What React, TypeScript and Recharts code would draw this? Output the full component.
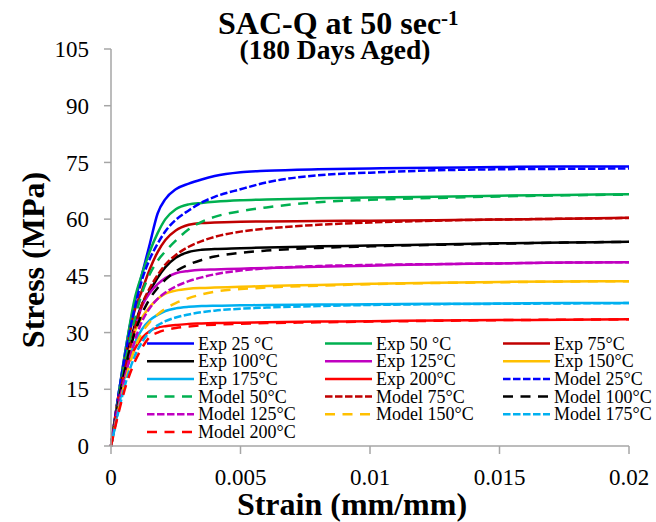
import React from 'react';
import { LineChart, Line, XAxis, YAxis } from 'recharts';

const strain = [0, 0.0003, 0.0006, 0.0009, 0.0012, 0.0015, 0.0018, 0.0021, 0.0025, 0.003, 0.0035, 0.004, 0.005, 0.006, 0.008, 0.01, 0.0125, 0.015, 0.0175, 0.02];

const exp25 = [0, 14, 27, 37.5, 45.5, 53.5, 61.5, 65.3, 67.9, 69.4, 70.5, 71.4, 72.4, 72.8, 73.2, 73.4, 73.6, 73.8, 73.9, 73.9];
const exp50 = [0, 14, 27, 38.5, 45.5, 51.5, 56.3, 60, 62.6, 63.9, 64.3, 64.6, 65, 65.2, 65.5, 65.7, 65.9, 66.2, 66.4, 66.6];
const exp75 = [0, 13, 25, 35.5, 41.2, 46.8, 51.3, 54.5, 57, 58.5, 59, 59.1, 59.3, 59.4, 59.5, 59.6, 59.7, 59.9, 60.1, 60.4];
const exp100 = [0, 12, 23, 31.5, 37.5, 41, 44.5, 47.3, 49.8, 51.3, 51.9, 52.1, 52.3, 52.5, 52.8, 53, 53.3, 53.6, 53.8, 54];
const exp125 = [0, 11.5, 22, 30.5, 37, 40.5, 42.8, 44.4, 45.7, 46.3, 46.6, 46.7, 46.9, 47.1, 47.4, 47.7, 48.1, 48.3, 48.5, 48.6];
const exp150 = [0, 11, 21, 30, 34, 36.8, 38.9, 40.3, 41.1, 41.6, 41.8, 41.9, 42.1, 42.3, 42.6, 42.9, 43.2, 43.4, 43.5, 43.6];
const exp175 = [0, 10.5, 20.5, 27, 30.9, 33.3, 34.7, 35.7, 36.4, 36.8, 37, 37.1, 37.2, 37.3, 37.4, 37.5, 37.6, 37.7, 37.8, 37.8];
const exp200 = [0, 13.5, 20.5, 25.5, 28.6, 30.4, 31.3, 31.7, 32, 32.3, 32.4, 32.5, 32.6, 32.7, 32.9, 33, 33.2, 33.3, 33.4, 33.5];

const model25 = [0, 14, 26, 36, 44, 49.5, 53.5, 56.8, 59.8, 62.3, 64.4, 65.9, 67.9, 69.7, 71.6, 72.3, 72.9, 73.2, 73.3, 73.4];
const model50 = [0, 13, 24, 33, 40.5, 45.5, 49, 51.5, 54.3, 57.3, 59.3, 60.6, 62.1, 63.1, 64.5, 65.1, 65.6, 66, 66.3, 66.5];
const model75 = [0, 12, 22, 30.5, 37.5, 41.8, 45.2, 48, 50.5, 52.7, 54.2, 55.3, 56.7, 57.5, 58.5, 59.1, 59.6, 59.9, 60.1, 60.3];
const model100 = [0, 12, 22, 29.5, 35, 39, 41.8, 44, 46.2, 48, 49.2, 50.1, 51.1, 51.7, 52.4, 52.8, 53.2, 53.5, 53.8, 54];
const model125 = [0, 11, 20, 27.5, 33, 36.5, 38.9, 40.6, 42.2, 43.6, 44.6, 45.4, 46.4, 47, 47.6, 47.9, 48.1, 48.3, 48.5, 48.6];
const model150 = [0, 10, 18.5, 25.5, 30, 32.8, 34.8, 36.3, 37.8, 39.1, 40.1, 40.8, 41.5, 41.9, 42.4, 42.8, 43.1, 43.3, 43.5, 43.6];
const model175 = [0, 9.5, 17.5, 23.5, 27.5, 30.2, 31.9, 33, 34, 34.8, 35.4, 35.8, 36.3, 36.6, 37, 37.3, 37.5, 37.6, 37.7, 37.8];
const model200 = [0, 9, 16.5, 22, 26, 28.9, 30, 30.7, 31.2, 31.6, 31.9, 32.1, 32.3, 32.5, 32.7, 32.9, 33.1, 33.3, 33.4, 33.5];

const xTicks = [0, 0.005, 0.01, 0.015, 0.02];
const yTicks = [0, 15, 30, 45, 60, 75, 90, 105];

const SHORT = '7.5 2.5';
const LONG = '10 7.5';

const series = [
  { key: 'e25', name: 'Exp 25 °C', values: exp25, color: '#0000FF', dash: '' },
  { key: 'e50', name: 'Exp 50 °C', values: exp50, color: '#00B050', dash: '' },
  { key: 'e75', name: 'Exp 75°C', values: exp75, color: '#C00000', dash: '' },
  { key: 'e100', name: 'Exp 100°C', values: exp100, color: '#000000', dash: '' },
  { key: 'e125', name: 'Exp 125°C', values: exp125, color: '#C000C0', dash: '' },
  { key: 'e150', name: 'Exp 150°C', values: exp150, color: '#FFC000', dash: '' },
  { key: 'e175', name: 'Exp 175°C', values: exp175, color: '#00B0F0', dash: '' },
  { key: 'e200', name: 'Exp 200°C', values: exp200, color: '#FF0000', dash: '' },
  { key: 'm25', name: 'Model 25°C', values: model25, color: '#0000FF', dash: SHORT },
  { key: 'm50', name: 'Model 50°C', values: model50, color: '#00B050', dash: LONG },
  { key: 'm75', name: 'Model 75°C', values: model75, color: '#C00000', dash: SHORT },
  { key: 'm100', name: 'Model 100°C', values: model100, color: '#000000', dash: LONG },
  { key: 'm125', name: 'Model 125°C', values: model125, color: '#C000C0', dash: SHORT },
  { key: 'm150', name: 'Model 150°C', values: model150, color: '#FFC000', dash: LONG },
  { key: 'm175', name: 'Model 175°C', values: model175, color: '#00B0F0', dash: SHORT },
  { key: 'm200', name: 'Model 200°C', values: model200, color: '#FF0000', dash: LONG },
];

const data = strain.map((x, i) => {
  const row: Record<string, number> = { x };
  series.forEach((s) => {
    row[s.key] = s.values[i];
  });
  return row;
});

const FONT = "'Liberation Serif', 'Times New Roman', serif";
const AXIS = '#A6A6A6';

const legendCols = [147, 325, 503];
const legendRow0 = 343.5;
const legendRowStep = 17.7;

export default function App() {
  return (
    <div style={{ position: 'absolute', left: 0, top: 0, width: 656, height: 522, background: '#fff' }}>
      <LineChart
        width={656}
        height={522}
        data={data}
        margin={{ top: 49, right: 27, bottom: 0, left: 0 }}
      >
        <XAxis
          dataKey="x"
          type="number"
          domain={[0, 0.02]}
          ticks={xTicks}
          tickFormatter={(v: number) => String(v)}
          height={76}
          stroke={AXIS}
          strokeWidth={1.5}
          tickSize={8}
          tickMargin={15}
          tick={{ fontSize: 23, fill: '#000', fontFamily: FONT, style: { fontFamily: FONT } }}
          interval={0}
        />
        <YAxis
          type="number"
          domain={[0, 105]}
          ticks={yTicks}
          width={111}
          stroke={AXIS}
          strokeWidth={1.5}
          tickSize={7}
          tickMargin={15}
          tick={{ fontSize: 23, fill: '#000', fontFamily: FONT, style: { fontFamily: FONT } }}
          interval={0}
        />
        {series.map((s) => (
          <Line
            key={s.key}
            dataKey={s.key}
            name={s.name}
            type="monotone"
            stroke={s.color}
            strokeWidth={2.5}
            strokeDasharray={s.dash || undefined}
            dot={false}
            activeDot={false}
            isAnimationActive={false}
          />
        ))}
      </LineChart>
      <svg
        width={656}
        height={522}
        style={{ position: 'absolute', left: 0, top: 0, pointerEvents: 'none' }}
      >
        <text x={218} y={34} fontFamily={FONT} fontWeight="bold" fontSize={32} fill="#000">
          SAC-Q at 50 sec
          <tspan dy={-9} fontSize={21}>-1</tspan>
        </text>
        <text x={335} y={59} textAnchor="middle" fontFamily={FONT} fontWeight="bold" fontSize={27.5} fill="#000">
          (180 Days Aged)
        </text>
        <text x={352} y={515} textAnchor="middle" fontFamily={FONT} fontWeight="bold" fontSize={32} fill="#000">
          Strain (mm/mm)
        </text>
        <text
          x={0}
          y={0}
          transform="translate(44,260) rotate(-90)"
          textAnchor="middle"
          fontFamily={FONT}
          fontWeight="bold"
          fontSize={32}
          fill="#000"
        >
          Stress (MPa)
        </text>
        {series.map((s, i) => {
          const col = i % 3;
          const row = Math.floor(i / 3);
          const lx = legendCols[col];
          const ly = legendRow0 + row * legendRowStep;
          return (
            <g key={s.key}>
              <line
                x1={lx}
                y1={ly}
                x2={lx + 47}
                y2={ly}
                stroke={s.color}
                strokeWidth={2.5}
                strokeDasharray={s.dash || undefined}
              />
              <text x={lx + 51} y={ly + 6} fontFamily={FONT} fontSize={18} fill="#000">
                {s.name}
              </text>
            </g>
          );
        })}
      </svg>
    </div>
  );
}
